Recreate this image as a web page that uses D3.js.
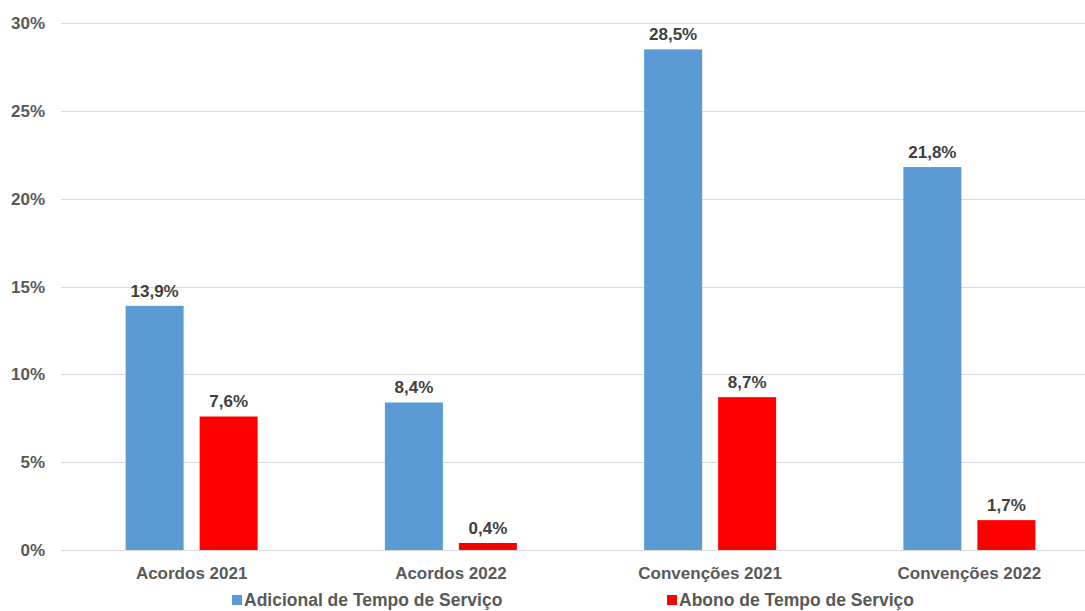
<!DOCTYPE html>
<html><head><meta charset="utf-8">
<script src="https://cdn.jsdelivr.net/npm/d3@7"></script>
<style>body{margin:0;background:#fff;overflow:hidden}svg{display:block;font-family:"Liberation Sans",Arial,sans-serif}</style>
</head><body><svg id="c" width="1085" height="611"></svg>
<script>
const categories = ["Acordos 2021","Acordos 2022","Convenções 2021","Convenções 2022"];
const seriesNames = ["Adicional de Tempo de Serviço","Abono de Tempo de Serviço"];
const adicional = [13.9, 8.4, 28.5, 21.8];
const abono = [7.6, 0.4, 8.7, 1.7];
const yTicks = [0,5,10,15,20,25,30];
const colors = ["#5b9bd5","#ff0000"];

const svg = d3.select("#c");
const x0 = 62, x1 = 1099, yBottom = 550, yTop = 23;
const x = d3.scaleBand().domain(categories).range([x0,x1]).paddingInner(0).paddingOuter(0);
const y = d3.scaleLinear().domain([0,30]).range([yBottom,yTop]);
const series = [adicional, abono];
const barW = 58, gap = 16;
const fmt = v => v.toFixed(1).replace(".",",") + "%";

svg.append("g").selectAll("line").data(yTicks).join("line")
  .attr("x1",61).attr("x2",1085).attr("y1",d=>Math.round(y(d))+0.5).attr("y2",d=>Math.round(y(d))+0.5)
  .attr("stroke","#d9d9d9").attr("stroke-width",1);

svg.append("g").selectAll("text").data(yTicks).join("text")
  .attr("x",45).attr("y",d=>y(d)+6).attr("text-anchor","end")
  .attr("font-size",17).attr("font-weight","bold").attr("fill","#595959")
  .text(d=>d+"%");

series.forEach((s,si)=>{
  const g = svg.append("g");
  const off = si===0 ? -(gap/2+barW) : gap/2;
  g.selectAll("rect").data(s).join("rect")
    .attr("x",(d,i)=>x(categories[i])+x.bandwidth()/2+off)
    .attr("width",barW)
    .attr("y",d=>y(d)).attr("height",d=>yBottom-y(d))
    .attr("fill",colors[si]);
  g.selectAll("text").data(s).join("text")
    .attr("x",(d,i)=>x(categories[i])+x.bandwidth()/2+off+barW/2)
    .attr("y",d=>y(d)-9).attr("text-anchor","middle")
    .attr("font-size",17).attr("font-weight","bold").attr("fill","#404040")
    .text(fmt);
});

svg.append("g").selectAll("text").data(categories).join("text")
  .attr("x",d=>x(d)+x.bandwidth()/2).attr("y",579).attr("text-anchor","middle")
  .attr("font-size",17).attr("font-weight","bold").attr("fill","#595959")
  .text(d=>d);

const legX = [232, 667];
const lg = svg.append("g").selectAll("g").data(seriesNames).join("g");
lg.append("rect").attr("x",(d,i)=>legX[i]).attr("y",595).attr("width",10).attr("height",10).attr("fill",(d,i)=>colors[i]);
lg.append("text").attr("x",(d,i)=>legX[i]+12).attr("y",606)
  .attr("font-size",17.5).attr("font-weight","bold").attr("fill","#595959").text(d=>d);
</script></body></html>
